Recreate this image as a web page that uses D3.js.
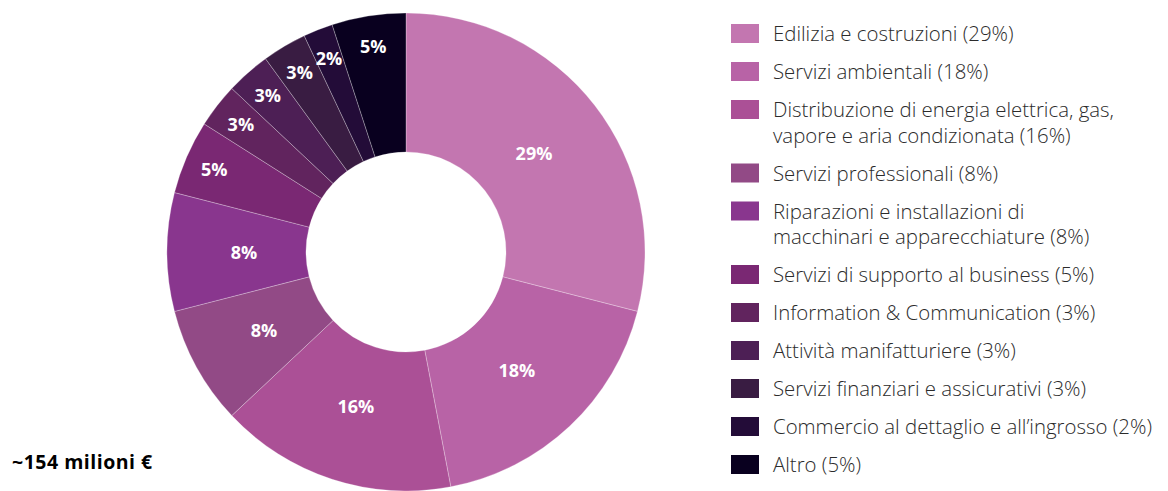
<!DOCTYPE html>
<html>
<head>
<meta charset="utf-8">
<script src="https://cdn.jsdelivr.net/npm/d3@7/dist/d3.min.js"></script>
<style>
  html, body { margin: 0; padding: 0; background: #fff; }
  svg { display: block; font-family: "Open Sans", "Noto Sans", sans-serif; }
</style>
</head>
<body>
<svg id="chart" width="1168" height="491"></svg>
<script>
// Sector breakdown (share of total, %)
const categories = [
  "Edilizia e costruzioni",
  "Servizi ambientali",
  "Distribuzione di energia elettrica, gas,\nvapore e aria condizionata",
  "Servizi professionali",
  "Riparazioni e installazioni di\nmacchinari e apparecchiature",
  "Servizi di supporto al business",
  "Information & Communication",
  "Attività manifatturiere",
  "Servizi finanziari e assicurativi",
  "Commercio al dettaglio e all’ingrosso",
  "Altro"
];
const shares = [29, 18, 16, 8, 8, 5, 3, 3, 3, 2, 5];
const colors = [
  "#c376b0", "#b863a6", "#ab5096", "#924a86", "#89368e",
  "#7a2873", "#61245e", "#4d1f55", "#391c42", "#230c38", "#09001f"
];
const totalLabel = "~154 milioni €";

const svg = d3.select("#chart");

// Donut
const cx = 406, cy = 252;
const outerR = 239, innerR = 100;

const pie = d3.pie().sort(null).value(d => d.v);
const data = pie(shares.map((v, i) => ({ v, i })));

const arc = d3.arc().innerRadius(innerR).outerRadius(outerR);

const g = svg.append("g").attr("transform", `translate(${cx},${cy})`);

g.selectAll("path.slice")
  .data(data)
  .join("path")
  .attr("class", "slice")
  .attr("d", arc)
  .attr("fill", d => colors[d.data.i])
  .attr("stroke", "rgba(255,255,255,0.45)")
  .attr("stroke-width", 0.6);

// Value labels: small slices sit closer to the outer rim
const labelRadius = v => v >= 8 ? 162 : 209;
g.selectAll("text.val")
  .data(data)
  .join("text")
  .attr("class", "val")
  .attr("transform", d => {
    const a = (d.startAngle + d.endAngle) / 2;
    const r = labelRadius(d.data.v);
    return `translate(${Math.sin(a) * r},${-Math.cos(a) * r})`;
  })
  .attr("text-anchor", "middle")
  .attr("dominant-baseline", "central")
  .attr("fill", "#fff")
  .attr("font-size", 18)
  .attr("font-weight", 700)
  .text(d => d.data.v + "%");

// Legend
const legend = svg.append("g").attr("transform", "translate(731,33.5)");
const rowGap = 38, lineH = 25.5;
let y = 0;
categories.forEach((c, i) => {
  const lines = (c + " (" + shares[i] + "%)").split("\n");
  const row = legend.append("g").attr("transform", `translate(0,${y})`);
  row.append("rect")
    .attr("x", 0).attr("y", -9.5)
    .attr("width", 28).attr("height", 19)
    .attr("fill", colors[i]);
  const t = row.append("text")
    .attr("fill", "#2b2b2b")
    .attr("font-size", 20.4)
    .attr("font-weight", 300);
  lines.forEach((ln, k) => {
    t.append("tspan")
      .attr("x", 42)
      .attr("y", k * lineH + 7.5)
      .text(ln);
  });
  y += rowGap + (lines.length - 1) * lineH;
});

// Total
svg.append("text")
  .attr("x", 12).attr("y", 469)
  .attr("fill", "#000")
  .attr("font-size", 19.5)
  .attr("font-weight", 700)
  .attr("letter-spacing", 0.5)
  .text(totalLabel);
</script>
</body>
</html>
